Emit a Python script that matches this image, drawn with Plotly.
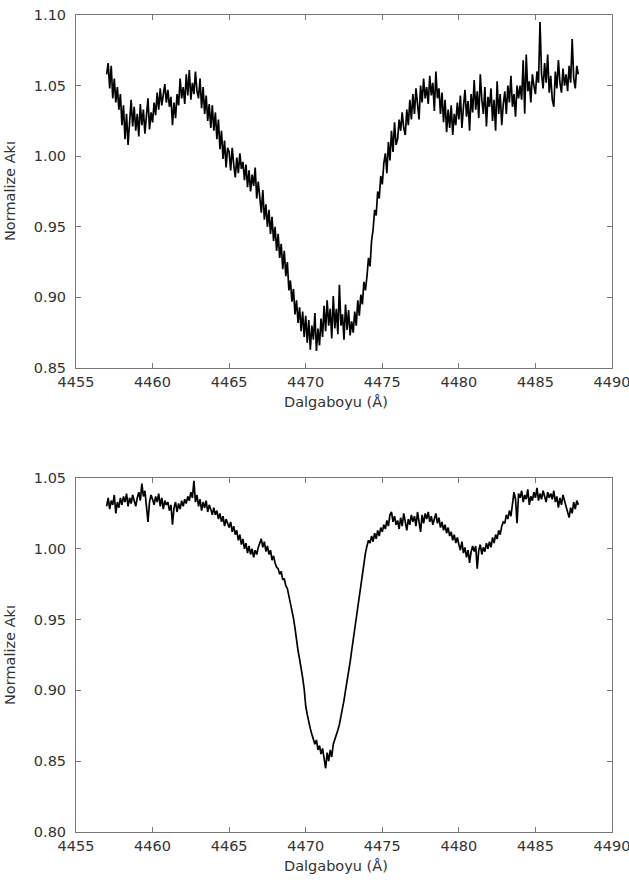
import plotly.graph_objects as go

# wavelength grid: 4457.0 .. 4487.8 in 0.1 A steps
wl_start = 4457.0
wl_step = 0.1

flux_top = [
    1.058, 1.066, 1.048, 1.064, 1.041, 1.055, 1.038, 1.049, 1.033, 1.044,
    1.022, 1.036, 1.012, 1.030, 1.008, 1.027, 1.040, 1.021, 1.035, 1.018,
    1.030, 1.014, 1.037, 1.022, 1.033, 1.016, 1.028, 1.041, 1.019, 1.031,
    1.024, 1.038, 1.029, 1.045, 1.033, 1.048, 1.036, 1.043, 1.051, 1.038,
    1.047, 1.035, 1.042, 1.022, 1.038, 1.027, 1.044, 1.036, 1.055, 1.041,
    1.049, 1.037, 1.058, 1.043, 1.061, 1.040, 1.052, 1.044, 1.060, 1.046,
    1.041, 1.055, 1.034, 1.049, 1.030, 1.043, 1.025, 1.037, 1.020, 1.036,
    1.018, 1.031, 1.012, 1.026, 1.005, 1.018, 0.998, 1.011, 0.992, 1.006,
    1.003, 0.990, 1.006, 0.994, 0.985, 0.999, 0.988, 1.002, 0.991, 0.996,
    0.983, 0.994, 0.978, 0.990, 0.975, 0.987, 0.979, 0.992, 0.970, 0.982,
    0.973, 0.960, 0.976, 0.955, 0.966, 0.950, 0.962, 0.945, 0.957, 0.940,
    0.950, 0.933, 0.945, 0.928, 0.938, 0.920, 0.933, 0.915, 0.925, 0.905,
    0.912, 0.897, 0.906, 0.888, 0.898, 0.882, 0.893, 0.876, 0.890, 0.872,
    0.887, 0.868, 0.884, 0.863, 0.880, 0.870, 0.889, 0.862, 0.878, 0.866,
    0.885, 0.872, 0.894, 0.876, 0.898, 0.880, 0.892, 0.871, 0.901, 0.878,
    0.892, 0.874, 0.909, 0.880, 0.888, 0.870, 0.895, 0.877, 0.891, 0.873,
    0.883, 0.875, 0.890, 0.880, 0.898, 0.887, 0.902, 0.895, 0.911, 0.905,
    0.915, 0.928, 0.922, 0.940, 0.948, 0.962, 0.958, 0.975, 0.970, 0.986,
    0.980, 0.995, 1.002, 0.988, 1.010, 0.997, 1.018, 1.003, 1.024, 1.008,
    1.012, 1.026, 1.018, 1.031, 1.020, 1.015, 1.033, 1.022, 1.040, 1.026,
    1.044, 1.030, 1.048, 1.036, 1.026, 1.050, 1.038, 1.055, 1.041, 1.049,
    1.037, 1.057, 1.043, 1.052, 1.032, 1.060, 1.041, 1.048, 1.030, 1.045,
    1.024, 1.040, 1.017, 1.033, 1.020, 1.036, 1.015, 1.030, 1.022, 1.038,
    1.026, 1.043, 1.020, 1.035, 1.047, 1.028, 1.039, 1.018, 1.044, 1.031,
    1.054, 1.033, 1.046, 1.027, 1.058, 1.040, 1.030, 1.049, 1.021, 1.042,
    1.035, 1.048, 1.025, 1.040, 1.018, 1.053, 1.030, 1.044, 1.022, 1.037,
    1.046, 1.030, 1.050, 1.038, 1.057, 1.035, 1.044, 1.028, 1.050, 1.041,
    1.050, 1.040, 1.068, 1.030, 1.072, 1.046, 1.053, 1.038, 1.058, 1.050,
    1.044, 1.060, 1.052, 1.095, 1.058, 1.048, 1.066, 1.052, 1.072, 1.045,
    1.057, 1.040, 1.035, 1.060, 1.048, 1.068, 1.052, 1.045, 1.062, 1.050,
    1.058, 1.046, 1.064, 1.052, 1.083, 1.055, 1.048, 1.064, 1.058,
]

flux_bottom = [
    1.030, 1.036, 1.028, 1.034, 1.031, 1.038, 1.025, 1.033, 1.029, 1.036,
    1.031, 1.037, 1.033, 1.039, 1.030, 1.036, 1.032, 1.038, 1.034, 1.030,
    1.036, 1.040, 1.034, 1.046, 1.037, 1.041, 1.030, 1.019, 1.033, 1.038,
    1.035, 1.031, 1.037, 1.033, 1.039, 1.030, 1.036, 1.028, 1.034, 1.031,
    1.033, 1.027, 1.031, 1.017, 1.029, 1.033, 1.026, 1.032, 1.028, 1.034,
    1.030, 1.035, 1.032, 1.037, 1.034, 1.040, 1.036, 1.048, 1.033, 1.038,
    1.030, 1.035, 1.027, 1.033, 1.029, 1.034, 1.026, 1.031, 1.028, 1.024,
    1.029, 1.024, 1.027, 1.021, 1.025, 1.019, 1.023, 1.016, 1.021, 1.018,
    1.015, 1.019, 1.012, 1.016, 1.010, 1.013, 1.006, 1.010, 1.003, 1.007,
    1.000, 1.004, 0.997, 1.002, 0.996, 1.000, 0.994, 0.999, 0.996, 1.001,
    1.004, 1.007, 1.001, 1.005, 0.998, 1.002, 0.996, 0.999, 0.992, 0.995,
    0.990, 0.987, 0.986, 0.982, 0.984, 0.978, 0.979, 0.974, 0.972, 0.967,
    0.963, 0.958, 0.951, 0.944, 0.935, 0.928, 0.922, 0.916, 0.909, 0.901,
    0.889, 0.883, 0.877, 0.873, 0.869, 0.866, 0.862, 0.865, 0.858, 0.861,
    0.855, 0.859, 0.851, 0.845, 0.856, 0.850, 0.858, 0.853, 0.862, 0.866,
    0.868, 0.872, 0.876, 0.881, 0.887, 0.893, 0.900, 0.906, 0.913, 0.920,
    0.928, 0.936, 0.944, 0.952, 0.960, 0.968, 0.976, 0.984, 0.991, 0.997,
    1.002, 1.006, 1.004, 1.009, 1.005, 1.011, 1.007, 1.013, 1.009, 1.015,
    1.012, 1.017, 1.014, 1.020, 1.016, 1.024, 1.026, 1.019, 1.023, 1.017,
    1.020, 1.014, 1.022, 1.016, 1.025, 1.018, 1.013, 1.021, 1.017, 1.024,
    1.019, 1.023, 1.016, 1.026, 1.020, 1.012, 1.024, 1.018, 1.025, 1.021,
    1.026, 1.019, 1.023, 1.017, 1.021, 1.025, 1.018, 1.022, 1.015, 1.019,
    1.013, 1.017, 1.011, 1.015, 1.009, 1.012, 1.006, 1.010, 1.004, 1.008,
    1.003, 0.999, 1.005, 0.997, 1.001, 0.994, 0.999, 0.990, 0.998, 1.002,
    0.998, 1.002, 0.986, 0.999, 1.003, 0.996, 1.001, 0.998, 1.004, 1.000,
    1.005, 1.001, 1.008, 1.004, 1.010, 1.007, 1.013, 1.010, 1.016, 1.019,
    1.018, 1.024, 1.021, 1.027, 1.023, 1.030, 1.040, 1.035, 1.018, 1.039,
    1.036, 1.041, 1.033, 1.038, 1.035, 1.042, 1.031, 1.037, 1.034, 1.040,
    1.036, 1.043, 1.034, 1.039, 1.035, 1.041, 1.037, 1.033, 1.040, 1.036,
    1.039, 1.035, 1.041, 1.033, 1.037, 1.029, 1.036, 1.031, 1.038, 1.034,
    1.030, 1.026, 1.022, 1.029, 1.025, 1.033, 1.028, 1.034, 1.031,
]

wl_top = [round(wl_start + wl_step * i, 2) for i in range(len(flux_top))]
wl_bottom = [round(wl_start + wl_step * i, 2) for i in range(len(flux_bottom))]

x_ticks = [4455, 4460, 4465, 4470, 4475, 4480, 4485, 4490]
y_ticks_top = [0.85, 0.90, 0.95, 1.00, 1.05, 1.10]
y_ticks_bottom = [0.80, 0.85, 0.90, 0.95, 1.00, 1.05]

x_title = "Dalgaboyu (Å)"
y_title = "Normalize Akı"

W, H = 629, 895
fig = go.Figure()
fig.add_trace(go.Scatter(x=wl_top, y=flux_top, mode="lines",
                         line=dict(color="black", width=1.7), xaxis="x", yaxis="y",
                         showlegend=False))
fig.add_trace(go.Scatter(x=wl_bottom, y=flux_bottom, mode="lines",
                         line=dict(color="black", width=1.7), xaxis="x2", yaxis="y2",
                         showlegend=False))

font_family = "DejaVu Sans, Verdana, sans-serif"
tick_font = dict(family=font_family, size=14.5, color="#333333")
title_font = dict(family=font_family, size=14.5, color="#333333")

def xaxis_cfg(anchor):
    return dict(range=[4455, 4490], tickvals=x_ticks, ticks="inside", ticklen=5,
                tickcolor="#777777", showline=True, linecolor="#777777", linewidth=1,
                mirror="ticks", showgrid=False, zeroline=False, tickfont=tick_font,
                domain=[76 / W, 612 / W], anchor=anchor, ticklabelstandoff=1,
                ticklabeloverflow="allow", automargin=False)

def yaxis_cfg(rng, ticks, dom, anchor):
    return dict(range=rng, tickvals=ticks, tickformat=".2f", ticks="inside", ticklen=5,
                tickcolor="#777777", showline=True, linecolor="#777777", linewidth=1,
                mirror="ticks", showgrid=False, zeroline=False, tickfont=tick_font,
                domain=dom, anchor=anchor, ticklabelstandoff=6,
                ticklabeloverflow="allow", automargin=False)

# axis titles as text annotations placed in pixel-derived paper coordinates
titles = []
for x_px, y_px, txt, ang in [
    (336, 402, x_title, 0), (336, 866, x_title, 0),
    (10, 191, y_title, -90), (10, 655, y_title, -90),
]:
    titles.append(dict(text=txt, x=x_px / W, y=1 - y_px / H, xref="paper", yref="paper",
                       xanchor="center", yanchor="middle", showarrow=False,
                       textangle=ang, font=title_font))

fig.update_layout(
    width=W, height=H, margin=dict(l=0, r=0, t=0, b=0, autoexpand=False),
    paper_bgcolor="white", plot_bgcolor="white",
    xaxis=xaxis_cfg("y"),
    yaxis=yaxis_cfg([0.85, 1.10], y_ticks_top, [1 - 368 / H, 1 - 15 / H], "x"),
    xaxis2=xaxis_cfg("y2"),
    yaxis2=yaxis_cfg([0.80, 1.05], y_ticks_bottom, [1 - 832 / H, 1 - 478 / H], "x2"),
    annotations=titles,
)

fig.write_html("out.html")
